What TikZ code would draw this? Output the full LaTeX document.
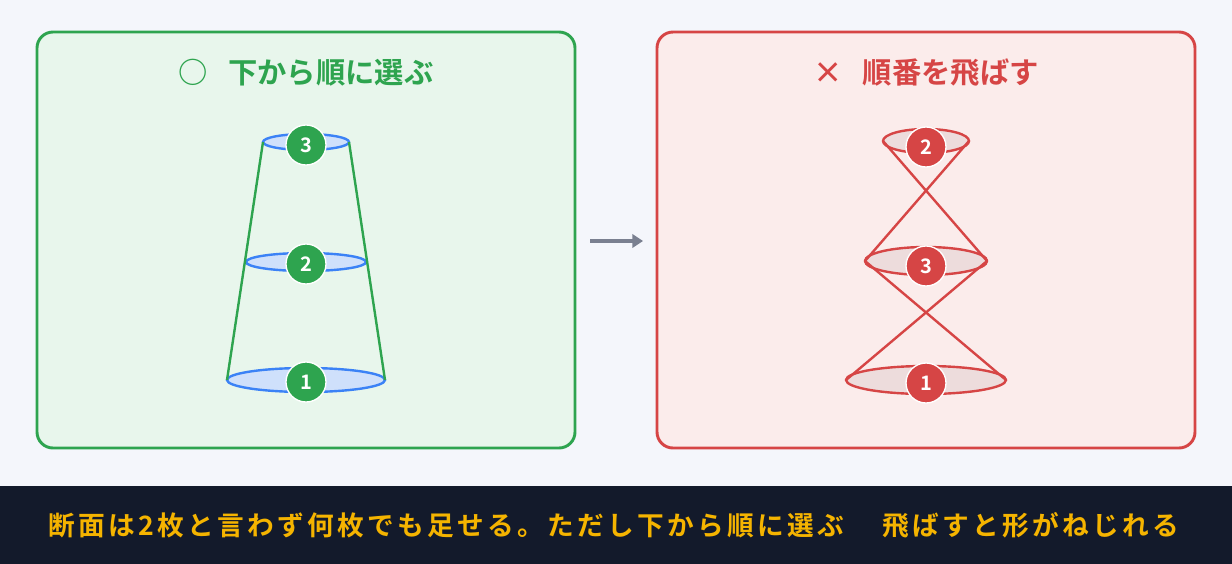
\documentclass[tikz,border=0pt]{standalone}
\usepackage{fontspec}
\usetikzlibrary{arrows.meta}
\setmainfont{Noto Sans CJK JP}[BoldFont={Noto Sans CJK JP Bold}]
\newfontfamily\cjkb{Noto Sans CJK JP Bold}
\newfontfamily\cjkw{Noto Sans CJK JP Bold}[LetterSpace=12.5]
\definecolor{gr}{HTML}{2EA44F}
\definecolor{grbg}{HTML}{E8F6EC}
\definecolor{rd}{HTML}{D64545}
\definecolor{rdbg}{HTML}{FBECEB}
\definecolor{bl}{HTML}{3B82F6}
\definecolor{blf}{HTML}{CFE0FB}
\definecolor{pk}{HTML}{EDDCDC}
\definecolor{bgc}{HTML}{F4F6FB}
\definecolor{band}{HTML}{131A2B}
\definecolor{yl}{HTML}{F5B400}
\definecolor{arr}{HTML}{7A8090}
\begin{document}
\begin{tikzpicture}[x=0.75pt,y=-0.75pt,
 panel/.style={line width=2.2pt,rounded corners=12pt},
 num/.style={circle,minimum size=30pt,inner sep=0pt,draw=white,line width=1pt,text=white,font=\cjkb\fontsize{15}{15}\selectfont},
 ttl/.style={font=\cjkb\fontsize{22}{22}\selectfont},
 captext/.style={anchor=west,text=yl,font=\cjkw\fontsize{20}{20}\selectfont}]
\fill[bgc] (0,0) rectangle (1232,564);
\useasboundingbox (0,0) rectangle (1232,564);
\fill[band] (0,486) rectangle (1232,564);
% left
\draw[panel,draw=gr,fill=grbg] (37,32) rectangle (575,448);
\node[ttl,text=gr] (lt) at (306,73) {○\hspace{0.7em}下から順に選ぶ};
\begin{scope}[draw=bl,line width=1.8pt,fill=blf]
\filldraw (306,142) ellipse [x radius=43,y radius=8];
\filldraw (306,262) ellipse [x radius=60,y radius=9];
\filldraw (306,380) ellipse [x radius=79,y radius=12];
\end{scope}
\coordinate (a1) at (263,142); \coordinate (a2) at (349,142);
\coordinate (b1) at (227,380); \coordinate (b2) at (385,380);
\draw[gr,line width=1.8pt] (a1)--(b1) (a2)--(b2);
\node[num,fill=gr] (g3) at (306,145) {3};
\node[num,fill=gr] (g2) at (306,264) {2};
\node[num,fill=gr] (g1) at (306,382) {1};
% arrow
\coordinate (p) at (590,241); \coordinate (q) at (643,241);
\draw[-{Triangle[length=8pt,width=10pt]},line width=2.5pt,color=arr] (p)--(q);
% right
\draw[panel,draw=rd,fill=rdbg] (657,32) rectangle (1195,448);
\node[ttl,text=rd] (rt) at (926,73) {×\hspace{0.7em}順番を飛ばす};
\begin{scope}[draw=rd,line width=1.8pt,fill=pk]
\filldraw (926,141) ellipse [x radius=43,y radius=12];
\filldraw (926,261) ellipse [x radius=61,y radius=14];
\filldraw (926,380) ellipse [x radius=80,y radius=14];
\end{scope}
\coordinate (t1) at (883,141); \coordinate (t2) at (969,141);
\coordinate (m1) at (865,261); \coordinate (m2) at (987,261);
\coordinate (u1) at (846,380); \coordinate (u2) at (1006,380);
\draw[rd,line width=1.8pt] (t1)--(m2) (t2)--(m1) (m1)--(u2) (m2)--(u1);
\node[num,fill=rd] (r2) at (926,147) {2};
\node[num,fill=rd] (r3) at (926,266) {3};
\node[num,fill=rd] (r1) at (926,383) {1};
% caption
\node[captext] (c1) at (44,525) {断面は2枚と言わず何枚でも足せる。ただし下から順に選ぶ};
\node[captext] (c2) at (878,525) {飛ばすと形がねじれる};
\end{tikzpicture}
\end{document}
